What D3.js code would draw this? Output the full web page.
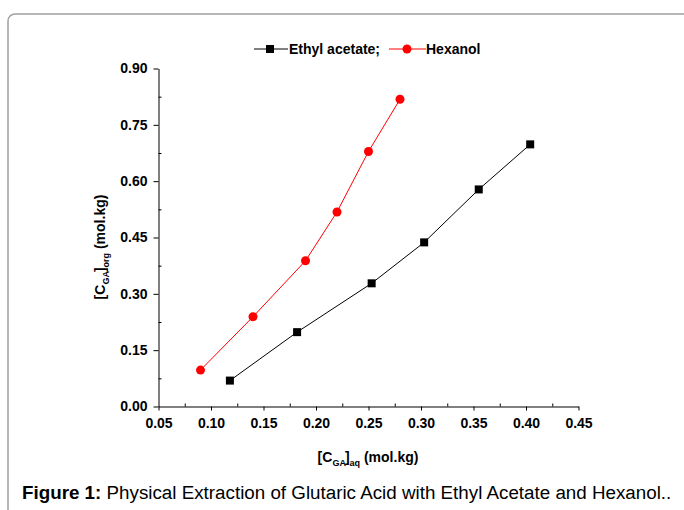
<!DOCTYPE html>
<html>
<head>
<meta charset="utf-8">
<script src="https://cdn.jsdelivr.net/npm/d3@7"></script>
<style>
    body { margin: 0; background: #fff; }
    svg text { font-family: "Liberation Sans", Arial, sans-serif; }
</style>
</head>
<body>
<svg id="chart"></svg>
<script>
    // values
    var xEthyl = [0.118, 0.182, 0.253, 0.303, 0.355, 0.404];
    var yEthyl = [0.069, 0.198, 0.328, 0.437, 0.578, 0.698];
    var xHexanol = [0.090, 0.140, 0.190, 0.220, 0.250, 0.280];
    var yHexanol = [0.097, 0.239, 0.388, 0.518, 0.679, 0.818];
    var xTicks = [0.05, 0.10, 0.15, 0.20, 0.25, 0.30, 0.35, 0.40, 0.45];
    var yTicks = [0.00, 0.15, 0.30, 0.45, 0.60, 0.75, 0.90];
    var seriesNames = ["Ethyl acetate;", "Hexanol"];

    var width = 684, height = 510;

    var svg = d3.select("#chart")
        .attr("width", width)
        .attr("height", height);

    // rounded frame of the figure box, runs off right / bottom
    svg.append("rect")
        .attr("x", 8).attr("y", 14)
        .attr("width", 700).attr("height", 520)
        .attr("rx", 7)
        .attr("fill", "none")
        .attr("stroke", "#a0a0a0")
        .attr("stroke-width", 1.5);

    var x = d3.scaleLinear().domain([0.05, 0.45]).range([158.5, 578.5]);
    var y = d3.scaleLinear().domain([0, 0.9]).range([406.5, 68.5]);

    var fmt = d3.format(".2f");

    // major ticks, outside
    var xAxis = svg.append("g")
        .attr("transform", "translate(0," + y(0) + ")")
        .call(d3.axisBottom(x).tickValues(xTicks).tickFormat(fmt)
            .tickSize(4).tickPadding(8).tickSizeOuter(0));

    var yAxis = svg.append("g")
        .attr("transform", "translate(" + x(0.05) + ",0)")
        .call(d3.axisLeft(y).tickValues(yTicks).tickFormat(fmt)
            .tickSize(5).tickPadding(6).tickSizeOuter(0));

    // minor ticks, inside
    var xMinor = d3.range(0, xTicks.length - 1).map(function(i) { return (xTicks[i] + xTicks[i + 1]) / 2; });
    var yMinor = d3.range(0, yTicks.length - 1).map(function(i) { return (yTicks[i] + yTicks[i + 1]) / 2; });

    svg.append("g")
        .attr("transform", "translate(0," + y(0) + ")")
        .call(d3.axisBottom(x).tickValues(xMinor).tickFormat("").tickSize(-3).tickSizeOuter(0))
        .select(".domain").remove();

    svg.append("g")
        .attr("transform", "translate(" + x(0.05) + ",0)")
        .call(d3.axisLeft(y).tickValues(yMinor).tickFormat("").tickSize(-3).tickSizeOuter(0))
        .select(".domain").remove();

    [xAxis, yAxis].forEach(function(g) {
        g.selectAll("text")
            .attr("fill", "#000")
            .style("font-size", "14px")
            .style("font-weight", "bold")
            .style("font-family", "'Liberation Sans', Arial, sans-serif");
        g.selectAll("line, path").attr("stroke", "#000");
    });

    var line = d3.line()
        .x(function(d) { return x(d[0]); })
        .y(function(d) { return y(d[1]); });

    var ethyl = xEthyl.map(function(v, i) { return [v, yEthyl[i]]; });
    var hexanol = xHexanol.map(function(v, i) { return [v, yHexanol[i]]; });

    svg.append("path").datum(ethyl)
        .attr("d", line).attr("fill", "none")
        .attr("stroke", "#000").attr("stroke-width", 1);

    svg.append("path").datum(hexanol)
        .attr("d", line).attr("fill", "none")
        .attr("stroke", "#ff0000").attr("stroke-width", 1);

    svg.selectAll(".sq").data(ethyl).enter()
        .append("rect")
        .attr("x", function(d) { return x(d[0]) - 4; })
        .attr("y", function(d) { return y(d[1]) - 4; })
        .attr("width", 8).attr("height", 8)
        .attr("fill", "#000");

    svg.selectAll(".dot").data(hexanol).enter()
        .append("circle")
        .attr("cx", function(d) { return x(d[0]); })
        .attr("cy", function(d) { return y(d[1]); })
        .attr("r", 4.5)
        .attr("fill", "#ff0000");

    // legend
    var legend = svg.append("g")
        .style("font-size", "14px").style("font-weight", "bold");

    legend.append("line").attr("x1", 254).attr("x2", 288).attr("y1", 49).attr("y2", 49)
        .attr("stroke", "#000");
    legend.append("rect").attr("x", 266).attr("y", 45).attr("width", 8).attr("height", 8).attr("fill", "#000");
    legend.append("text").attr("x", 289).attr("y", 54).text(seriesNames[0]);

    legend.append("line").attr("x1", 389).attr("x2", 426).attr("y1", 49).attr("y2", 49)
        .attr("stroke", "#ff0000");
    legend.append("circle").attr("cx", 407).attr("cy", 49).attr("r", 4.5).attr("fill", "#ff0000");
    legend.append("text").attr("x", 426).attr("y", 54).text(seriesNames[1]);

    // axis titles with subscripts
    function addTitle(g, sub) {
        g.append("tspan").text("[C");
        g.append("tspan").attr("dy", 4).style("font-size", "9px").text("GA");
        g.append("tspan").attr("dy", -4).attr("dx", -1).text("]");
        g.append("tspan").attr("dy", 4).style("font-size", "9px").text(sub);
        g.append("tspan").attr("dy", -4).text(" (mol.kg)");
    }

    var xTitle = svg.append("text")
        .attr("x", 368).attr("y", 462)
        .attr("text-anchor", "middle")
        .style("font-size", "14px").style("font-weight", "bold");
    addTitle(xTitle, "aq");

    var yTitle = svg.append("text")
        .attr("transform", "translate(105,247) rotate(-90)")
        .attr("text-anchor", "middle")
        .style("font-size", "14px").style("font-weight", "bold");
    addTitle(yTitle, "org");

    // caption
    var caption = svg.append("text")
        .attr("x", 22).attr("y", 499)
        .style("font-size", "18.8px");
    caption.append("tspan").style("font-weight", "bold").text("Figure 1:");
    caption.append("tspan").text(" Physical Extraction of Glutaric Acid with Ethyl Acetate and Hexanol..");
</script>
</body>
</html>
